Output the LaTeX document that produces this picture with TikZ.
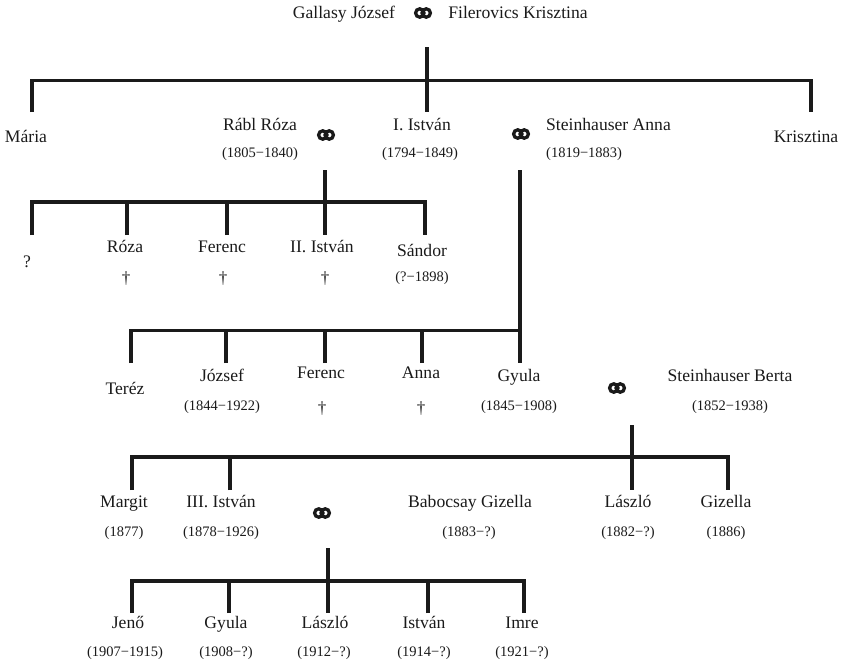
\documentclass[tikz,border=0pt]{standalone}
\usepackage{fontspec}
\setmainfont{Liberation Serif}
\newfontfamily\nmfont{Liberation Serif}
\definecolor{ink}{HTML}{1A1A1A}
\begin{document}
\begin{tikzpicture}[x=1pt,y=-1pt,
  nm/.style={font=\nmfont\fontsize{17.6}{20}\selectfont, anchor=base, inner sep=0, text=ink},
  dt/.style={font=\nmfont\fontsize{14.5}{17}\selectfont, anchor=base, inner sep=0, text=ink},
  dg/.style={font=\nmfont\fontsize{17}{20}\selectfont, anchor=base, inner sep=0, text=ink},
  bar/.style={draw=ink, line width=3.2pt},
  rings/.pic={\draw[ink, line width=3.3pt] (-3.2,0) circle[radius=4.2] (3.2,0) circle[radius=4.2];}]
\useasboundingbox (0,0) rectangle (842,664);

% ---- generation 0
\node[nm] (gj) at (344,18) {Gallasy József};
\node[nm] (fk) at (518,18) {Filerovics Krisztina};
\pic at (423,13) {rings};
\coordinate (m0) at (427,47);
\coordinate (b0) at (427,80.5);

% ---- generation 1
\node[nm] (maria) at (26,142) {Mária};
\node[nm] (rr) at (260,130) {Rábl Róza};
\node[dt] (rrd) at (260,157.5) {(1805−1840)};
\pic at (326,135) {rings};
\node[nm] (i1) at (422,130) {I. István};
\node[dt] (i1d) at (420,157.5) {(1794−1849)};
\pic at (521,134) {rings};
\node[nm, anchor=base west] (sa) at (546,130) {Steinhauser Anna};
\node[dt, anchor=base west] (sad) at (546,157.5) {(1819−1883)};
\node[nm] (kr) at (806,142) {Krisztina};
\coordinate (c_maria) at (32,112);
\coordinate (c_i1) at (427,112);
\coordinate (c_kr) at (811,112);

\draw[bar] (m0) -- (c_i1);
\draw[bar] (c_maria) |- (b0) -| (c_kr);

% ---- generation 2 (Rábl Róza)
\coordinate (m1) at (325,170);
\coordinate (b1) at (325,202);
\node[nm] (q) at (27,267) {?};
\node[nm] (roza) at (125,252) {Róza};
\node[dg] (rozad) at (126,283) {†};
\node[nm] (fer1) at (222,252) {Ferenc};
\node[dg] (fer1d) at (223,283) {†};
\node[nm] (i2) at (322,252) {II. István};
\node[dg] (i2d) at (325,283) {†};
\node[nm] (san) at (422,256) {Sándor};
\node[dt] (sand) at (422,281) {(?−1898)};
\coordinate (c_q) at (32,235);
\coordinate (c_roza) at (127,235);
\coordinate (c_fer1) at (227,235);
\coordinate (c_i2) at (325,235);
\coordinate (c_san) at (425,235);
\draw[bar] (m1) -- (c_i2);
\draw[bar] (c_q) |- (b1) -| (c_san);
\draw[bar] (c_roza) -- (c_roza |- b1);
\draw[bar] (c_fer1) -- (c_fer1 |- b1);

% ---- generation 2 (Steinhauser Anna)
\coordinate (m2) at (520,170);
\coordinate (b2) at (520,330.5);
\node[nm] (terez) at (125,394) {Teréz};
\node[nm] (jozsef) at (222,381) {József};
\node[dt] (jozsefd) at (222,410) {(1844−1922)};
\node[nm] (fer2) at (321,378) {Ferenc};
\node[dg] (fer2d) at (322,413) {†};
\node[nm] (anna) at (421,378) {Anna};
\node[dg] (annad) at (421,413) {†};
\node[nm] (gyula) at (519,381) {Gyula};
\node[dt] (gyulad) at (519,410) {(1845−1908)};
\pic at (617,388) {rings};
\node[nm] (sb) at (730,381) {Steinhauser Berta};
\node[dt] (sbd) at (730,410) {(1852−1938)};
\coordinate (c_terez) at (131,363);
\coordinate (c_jozsef) at (226,363);
\coordinate (c_fer2) at (325,363);
\coordinate (c_anna) at (422,363);
\coordinate (c_gyula) at (520,363);
\draw[bar] (m2) -- (c_gyula);
\draw[bar] (c_terez) |- (b2);
\draw[bar] (c_jozsef) -- (c_jozsef |- b2);
\draw[bar] (c_fer2) -- (c_fer2 |- b2);
\draw[bar] (c_anna) -- (c_anna |- b2);

% ---- generation 3 (Gyula + Steinhauser Berta)
\coordinate (m3) at (632,425);
\coordinate (b3) at (632,457);
\node[nm] (margit) at (124,507) {Margit};
\node[dt] (margitd) at (124,536) {(1877)};
\node[nm] (i3) at (221,507) {III. István};
\node[dt] (i3d) at (221,536) {(1878−1926)};
\pic at (322,513) {rings};
\node[nm] (bg) at (470,507) {Babocsay Gizella};
\node[dt] (bgd) at (469,536) {(1883−?)};
\node[nm] (laszlo) at (628,507) {László};
\node[dt] (laszlod) at (628,536) {(1882−?)};
\node[nm] (gizella) at (726,507) {Gizella};
\node[dt] (gizellad) at (726,536) {(1886)};
\coordinate (c_margit) at (132,490);
\coordinate (c_i3) at (230,490);
\coordinate (c_laszlo) at (632,490);
\coordinate (c_gizella) at (728,490);
\draw[bar] (m3) -- (c_laszlo);
\draw[bar] (c_margit) |- (b3) -| (c_gizella);
\draw[bar] (c_i3) -- (c_i3 |- b3);

% ---- generation 4 (III. István + Babocsay Gizella)
\coordinate (m4) at (328,548);
\coordinate (b4) at (328,581);
\node[nm] (jeno) at (128,628) {Jenő};
\node[dt] (jenod) at (125,656) {(1907−1915)};
\node[nm] (gyula2) at (226,628) {Gyula};
\node[dt] (gyula2d) at (226,656) {(1908−?)};
\node[nm] (laszlo2) at (325,628) {László};
\node[dt] (laszlo2d) at (324,656) {(1912−?)};
\node[nm] (istvan) at (424,628) {István};
\node[dt] (istvand) at (424,656) {(1914−?)};
\node[nm] (imre) at (522,628) {Imre};
\node[dt] (imred) at (522,656) {(1921−?)};
\coordinate (c_jeno) at (132,613);
\coordinate (c_gyula2) at (229,613);
\coordinate (c_laszlo2) at (328,613);
\coordinate (c_istvan) at (428,613);
\coordinate (c_imre) at (524,613);
\draw[bar] (m4) -- (c_laszlo2);
\draw[bar] (c_jeno) |- (b4) -| (c_imre);
\draw[bar] (c_gyula2) -- (c_gyula2 |- b4);
\draw[bar] (c_istvan) -- (c_istvan |- b4);
\end{tikzpicture}
\end{document}
